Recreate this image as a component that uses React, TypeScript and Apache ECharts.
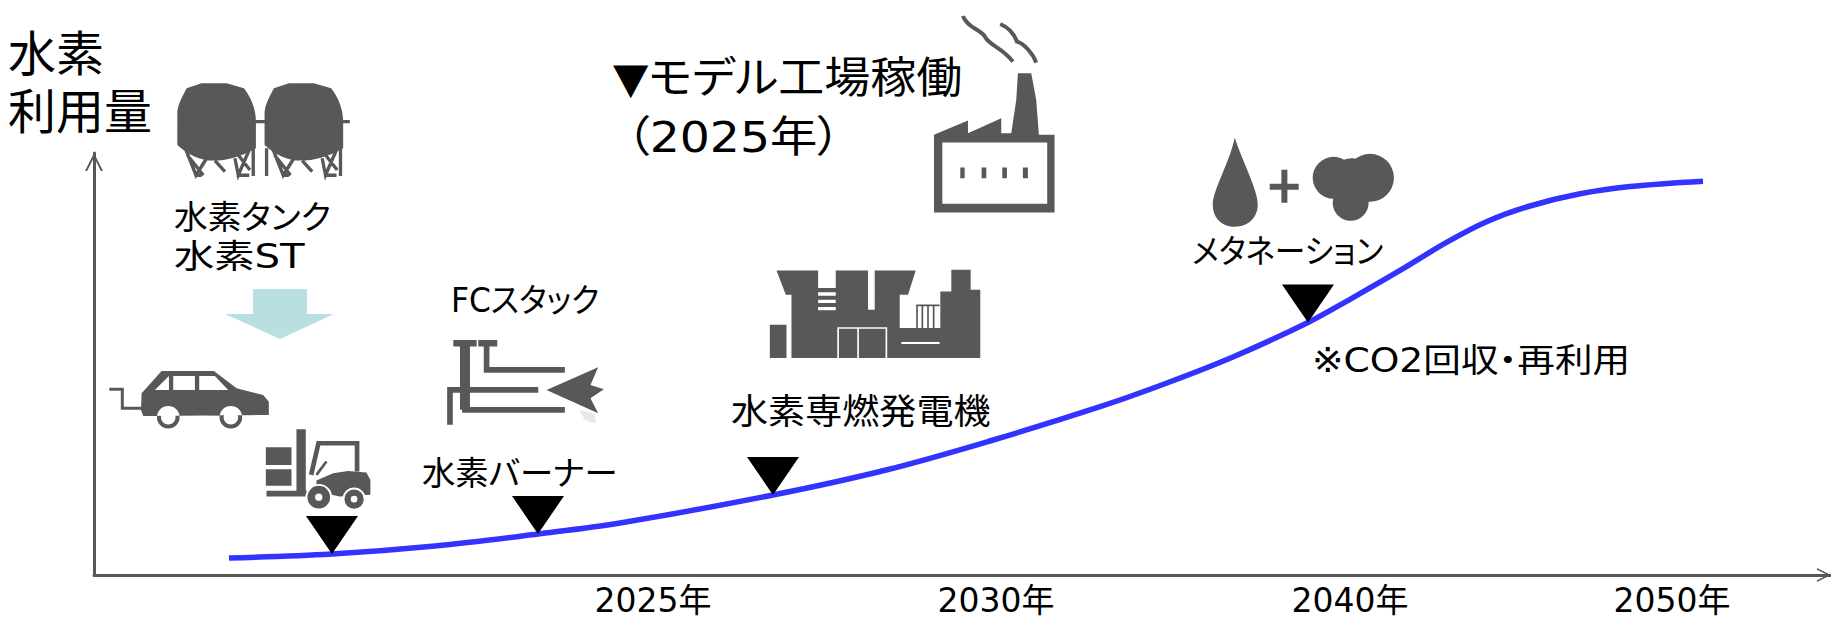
import React, { useEffect, useRef } from "react";
import * as echarts from "echarts";

// Hydrogen demand curve: horizontal position along the timeline, vertical share of the axis (0-100)
const curveX = [7.77, 13.7, 19.63, 25.56, 30.28, 39.09, 45.6, 51.76, 57.92, 61.77, 65.57, 69.89, 72.31, 75.19, 77.89, 80.2, 82.67, 85.55, 88.43, 92.63];
const curveY = [4.03, 4.98, 6.87, 9.72, 12.32, 18.96, 24.88, 31.99, 39.88, 45.5, 51.66, 59.83, 65.33, 72.16, 78.87, 83.77, 87.44, 90.33, 92.06, 93.33];

// Milestones sitting on the curve
const milestoneX = [13.7, 25.56, 39.09, 69.89];
const milestoneY = [4.98, 9.72, 18.96, 59.83];

// The year ticks are not evenly spaced on the timeline
const tickPositions = [32.18, 51.93, 72.31, 90.85];
const tickLabels = ["2025年", "2030年", "2040年", "2050年"];

const INK = "#595757";
const BLUE = "#3333ff";
const PALE = "#b9dfe2";
const FONT = '"DejaVu Sans","Noto Sans CJK JP",sans-serif';

const disc = (cx: number, cy: number, r: number) =>
  `M${cx - r} ${cy}A${r} ${r} 0 1 0 ${cx + r} ${cy}A${r} ${r} 0 1 0 ${cx - r} ${cy}Z`;

const tankBody = (o: number) =>
  `M${50 + o} 55L${95 + o} 40L${170 + o} 40L${222 + o} 55C${245 + o} 85 ${258 + o} 120 ${258 + o} 155L${258 + o} 235C${210 + o} 262 ${170 + o} 272 ${130 + o} 272C${90 + o} 272 ${55 + o} 255 ${22 + o} 225L${22 + o} 125C${25 + o} 100 ${40 + o} 75 ${50 + o} 55Z`;
const tankLegs = (o: number) =>
  `M${48 + o} 240L${78 + o} 316L${110 + o} 265M${135 + o} 272L${165 + o} 305M${195 + o} 265L${205 + o} 316L${240 + o} 235M${250 + o} 235L${250 + o} 318M${52 + o} 255L${100 + o} 316M${75 + o} 316L${95 + o} 316M${200 + o} 316L${238 + o} 316M${205 + o} 255L${240 + o} 300`;

type Layer = { name: string; d: string; ox: number; oy: number; fill?: string; stroke?: string; width?: number };

// Pictograms, each authored on a 3x working grid anchored at (ox, oy)
const layers: Layer[] = [
  // storage tanks
  { name: "tankA", ox: 170, oy: 70, fill: INK, d: tankBody(0) + tankBody(262) + "M255 150L285 150L285 160L255 160ZM520 150L540 150L540 160L520 160Z" },
  { name: "tankB", ox: 170, oy: 70, stroke: INK, width: 10, d: tankLegs(0) + tankLegs(262) + "M290 235L290 318" },
  // car
  { name: "carA", ox: 100, oy: 360, fill: INK, d: "M125 100L185 33L342 33L410 85L490 105L507 125L507 165L130 168L123 150Z" + disc(205, 172, 34) + disc(393, 172, 34) },
  { name: "carB", ox: 100, oy: 360, fill: "#ffffff", d: "M165 90L207 48L207 90ZM220 48L285 48L285 90L220 90ZM298 48L345 48L385 90L298 90Z" + disc(205, 172, 22) + disc(393, 172, 22) },
  { name: "carC", ox: 100, oy: 360, stroke: INK, width: 9, d: "M28 88L67 88L67 145L125 145" },
  // forklift
  { name: "liftA", ox: 100, oy: 360, fill: INK, d: "M590 208L618 208L618 393L625 393L625 410L500 410L500 393L590 393ZM498 262L575 262L575 315L498 315ZM498 328L575 328L575 378L498 378ZM650 362L700 340L745 333L800 338L812 360L812 405L720 410L650 395Z" },
  { name: "liftB", ox: 100, oy: 360, stroke: INK, width: 14, d: "M634 345L656 250L772 250L772 335" },
  { name: "liftC", ox: 100, oy: 360, stroke: INK, width: 8, d: "M650 345L680 305" },
  { name: "liftD", ox: 100, oy: 360, fill: "#ffffff", d: disc(657, 412, 40) + disc(763, 418, 35) },
  { name: "liftE", ox: 100, oy: 360, fill: INK, d: disc(657, 412, 34) + disc(763, 418, 29) },
  { name: "liftF", ox: 100, oy: 360, fill: "#ffffff", d: disc(657, 412, 11) + disc(763, 418, 10) },
  // FC stack / burner
  { name: "stackA", ox: 420, oy: 270, stroke: INK, width: 17, d: "M200 218L200 300L435 300M135 218L135 420L435 420M90 465L90 360L355 360" },
  { name: "stackB", ox: 420, oy: 270, fill: INK, d: "M100 210L170 210L170 230L100 230ZM175 210L232 210L232 230L175 230ZM120 230L150 230L150 420L120 420ZM380 360L535 292L512 345L552 358L512 385L535 430Z" },
  { name: "stackC", ox: 420, oy: 270, fill: "#e8e8e8", d: "M478 420L525 432L528 462L495 450Z" },
  // factory
  { name: "factA", ox: 600, oy: 0, fill: INK, d: "M1003 405L1105 362L1105 400L1205 355L1205 400L1235 400L1250 300L1255 220L1295 220L1310 300L1318 405L1365 405L1365 638L1003 638Z" },
  { name: "factB", ox: 600, oy: 0, fill: "#ffffff", d: "M1028 428L1343 428L1343 612L1028 612Z" },
  { name: "factC", ox: 600, oy: 0, fill: INK, d: "M1082 503L1095 503L1095 535L1082 535ZM1146 503L1160 503L1160 535L1146 535ZM1208 503L1222 503L1222 535L1208 535ZM1270 503L1285 503L1285 535L1270 535Z" },
  { name: "factD", ox: 600, oy: 0, stroke: INK, width: 12, d: "M1090 48C1100 80 1140 88 1155 108C1165 135 1205 140 1240 185M1202 72C1232 85 1245 105 1252 125C1272 130 1300 160 1310 188" },
  // hydrogen-fired generator
  { name: "genA", ox: 600, oy: 0, fill: INK, d: "M530 812L655 812L655 865L708 865L708 812L805 812L805 930L825 930L825 812L948 812L925 885L900 885L900 985L1022 985L1022 875L1055 875L1055 810L1113 810L1113 870L1142 870L1142 1075L575 1075L575 885L558 885ZM510 975L560 975L560 1075L510 1075Z" },
  { name: "genB", ox: 600, oy: 0, fill: "#ffffff", d: "M655 878L708 878L708 888L655 888ZM655 900L708 900L708 910L655 910ZM655 922L708 922L708 932L655 932ZM905 1027L1020 1027L1020 1033L905 1033Z" },
  { name: "genC", ox: 600, oy: 0, stroke: "#ffffff", width: 5, d: "M715 1075L715 985L860 985L860 1075M775 985L775 1075" },
  { name: "genD", ox: 600, oy: 0, stroke: INK, width: 5, d: "M952 985L952 917L1020 917M968 917L968 985M985 917L985 985M1002 917L1002 985" },
  // water droplet, plus sign, CO2 cloud
  { name: "dropA", ox: 0, oy: 0, fill: INK, d: "M3708 414C3690 495 3642 570 3642 615C3642 660 3675 681 3708 681C3750 681 3777 651 3777 615C3777 570 3735 495 3708 414Z" + "M3813 552L3900 552L3900 570L3813 570ZM3848 510L3866 510L3866 609L3848 609Z" + disc(4114, 534, 72) + disc(4005, 534, 63) + disc(4056, 609, 54) + disc(4060, 545, 70) },
];

const labelRows: [string, number, number, number, number][] = [
  ["水素", 8, 54, 48, 1],
  ["利用量", 8, 112, 48, 1],
  ["水素タンク", 174, 218, 33, 1.02],
  ["水素ST", 174, 257, 33, 1.22],
  ["FCスタック", 451, 301, 33, 0.95],
  ["水素バーナー", 422, 474, 33, 1.01],
  ["水素専燃発電機", 731, 412, 35, 1.06],
  ["メタネーション", 1192, 252, 33, 0.93],
  ["※CO2回収・再利用", 1312, 360, 33, 1.14],
  ["▼モデル工場稼働", 613, 79, 43, 1.07],
  ["（2025年）", 626, 137, 43, 1.1],
];

layers.forEach((l) => echarts.graphic.registerShape(l.name, echarts.graphic.extendPath(l.d as any, {} as any) as any));

export default function App() {
  const ref = useRef<HTMLDivElement>(null);
  useEffect(() => {
    const chart = echarts.init(ref.current!, undefined, { renderer: "svg" });
    const graphic: any[] = [
      // pale arrow from the tank to the vehicles
      { type: "polygon", shape: { points: [[253, 289], [307, 289], [307, 314], [334, 314], [280, 339], [225, 314], [253, 314]] }, style: { fill: PALE } },
      ...layers.map((l) => ({
        type: l.name,
        x: l.ox,
        y: l.oy,
        scaleX: 1 / 3,
        scaleY: 1 / 3,
        style: { fill: l.fill ?? "none", stroke: l.stroke ?? "none", lineWidth: l.width ?? 0 },
      })),
      ...labelRows.map(([text, x, y, size, sx]) => ({
        type: "text",
        x,
        y,
        scaleX: sx,
        style: { text, fill: "#000000", font: `${size}px ${FONT}`, textAlign: "left", textVerticalAlign: "middle" },
      })),
    ];
    chart.setOption({
      animation: false,
      backgroundColor: "#ffffff",
      grid: { left: 94, right: 0, top: 153, bottom: 44 },
      xAxis: {
        type: "value",
        min: 0,
        max: 100,
        splitLine: { show: false },
        axisTick: { show: false },
        axisLine: {
          show: true,
          lineStyle: { color: INK, width: 3 },
          symbol: ["none", "path://M50 0L100 100L88 100L50 24L12 100L0 100Z"],
          symbolSize: [21, 14],
          symbolOffset: [0, -7],
        },
        axisLabel: {
          customValues: tickPositions,
          formatter: (v: number) => tickLabels[tickPositions.indexOf(v)] ?? "",
          color: "#000000",
          fontSize: 33,
          fontFamily: FONT,
          margin: 9,
        },
      },
      yAxis: {
        type: "value",
        min: 0,
        max: 100,
        splitLine: { show: false },
        axisTick: { show: false },
        axisLabel: { show: false },
        axisLine: {
          show: true,
          onZero: false,
          lineStyle: { color: INK, width: 3 },
          symbol: ["none", "path://M50 0L100 100L88 100L50 24L12 100L0 100Z"],
          symbolSize: [21, 18],
          symbolOffset: [0, -9],
        },
      },
      graphic,
      series: [
        {
          type: "line",
          data: curveX.map((x, i) => [x, curveY[i]]),
          smooth: 0.35,
          showSymbol: false,
          lineStyle: { color: BLUE, width: 5.5, cap: "butt" },
          z: 2,
        },
        {
          type: "scatter",
          data: milestoneX.map((x, i) => [x, milestoneY[i]]),
          symbol: "path://M0 0L100 0L50 100Z",
          symbolSize: [52, 38],
          symbolOffset: [0, -19],
          itemStyle: { color: "#000000", opacity: 1 },
          z: 3,
        },
      ],
    });
    return () => chart.dispose();
  }, []);
  return (
    <>
      <style>{`svg text{font-feature-settings:"palt" !important}`}</style>
      <div ref={ref} style={{ position: "fixed", left: 0, top: 0, width: 1831, height: 619, background: "#fff" }} />
    </>
  );
}
